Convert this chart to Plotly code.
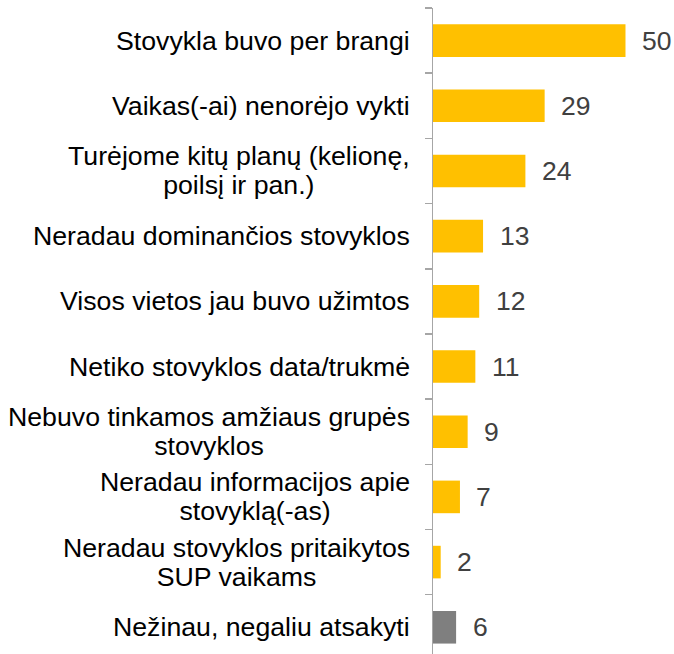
import plotly.graph_objects as go

categories = [
    "Stovykla buvo per brangi",
    "Vaikas(-ai) nenorėjo vykti",
    "Turėjome kitų planų (kelionę,<br>poilsį ir pan.)",
    "Neradau dominančios stovyklos",
    "Visos vietos jau buvo užimtos",
    "Netiko stovyklos data/trukmė",
    "Nebuvo tinkamos amžiaus grupės<br>stovyklos",
    "Neradau informacijos apie<br>stovyklą(-as)",
    "Neradau stovyklos pritaikytos<br>SUP vaikams",
    "Nežinau, negaliu atsakyti",
]
values = [50, 29, 24, 13, 12, 11, 9, 7, 2, 6]
bar_colors = ["#FFC000"] * 9 + ["#7F7F7F"]

LABEL_PX = 26.7


def styled(label):
    return "<br>".join(
        f"<span style='font-size:{LABEL_PX}px'>{part}</span>" for part in label.split("<br>")
    )


fig = go.Figure()
fig.add_trace(go.Bar(
    x=values, y=list(range(len(categories))), orientation="h",
    marker=dict(color=bar_colors, line=dict(width=0)),
    width=0.5, hoverinfo="skip",
))

annotations = []
for i, (c, v) in enumerate(zip(categories, values)):
    annotations.append(dict(
        x=0, y=i, xref="x", yref="y", text=styled(c), showarrow=False,
        xanchor="right", yanchor="middle", align="center", xshift=-21,
        font=dict(family="Liberation Sans, Arial", size=22.3, color="#000000"),
    ))
    annotations.append(dict(
        x=v, y=i, xref="x", yref="y", text=str(v), showarrow=False,
        xanchor="left", yanchor="middle", xshift=14.5,
        font=dict(family="Liberation Sans, Arial", size=26.5, color="#404040"),
    ))

fig.update_layout(
    width=674, height=654,
    margin=dict(l=433, r=0, t=8, b=0, pad=0),
    paper_bgcolor="white", plot_bgcolor="white",
    showlegend=False,
    annotations=annotations,
    xaxis=dict(range=[0, 62.6], visible=False, fixedrange=True),
    yaxis=dict(
        range=[9.41, -0.5], tickmode="array",
        tickvals=[i - 0.5 for i in range(11)], ticktext=[""] * 11,
        ticks="outside", ticklen=7, tickcolor="#A6A6A6", tickwidth=1.5,
        showline=True, linecolor="#A6A6A6", linewidth=1.5,
        showgrid=False, zeroline=False, showticklabels=False,
        fixedrange=True,
    ),
)

fig.write_html(
    "out.html",
    config={"displayModeBar": False, "staticPlot": True},
    post_script="document.body.style.margin='0';document.body.style.overflow='hidden';",
)
